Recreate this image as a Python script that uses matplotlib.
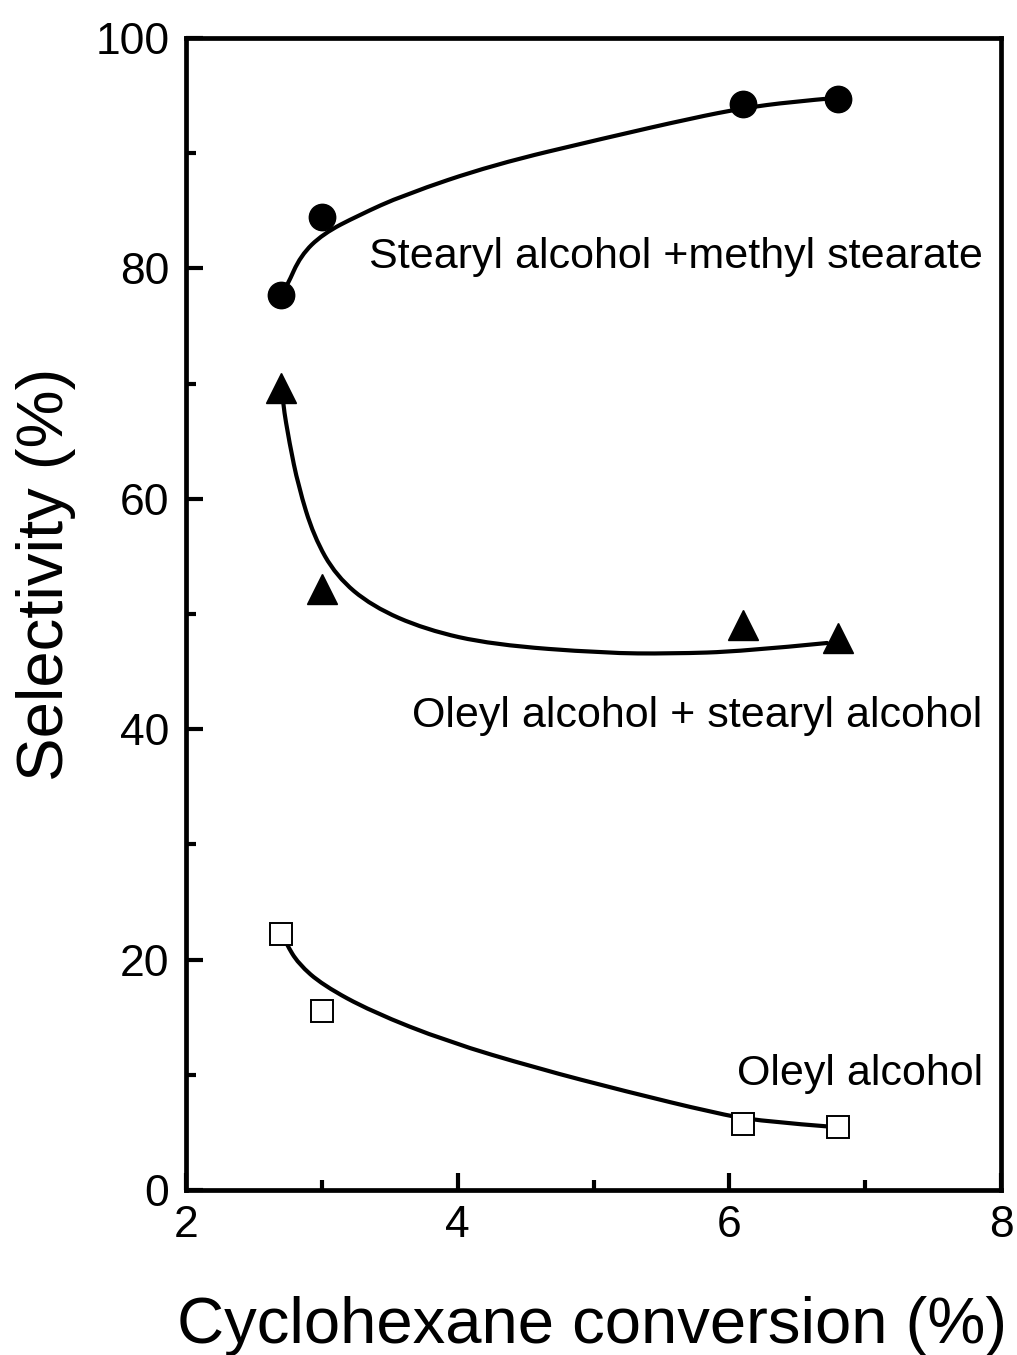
import matplotlib
matplotlib.use("Agg")
import matplotlib.pyplot as plt
from matplotlib.ticker import MultipleLocator
from matplotlib.path import Path
from matplotlib.patches import PathPatch

plt.rcParams['font.family'] = ['Liberation Sans', 'DejaVu Sans']

# ---- data ----
conversion = [2.7, 3.0, 6.1, 6.8]
sel_stearyl_methyl = [77.7, 84.5, 94.3, 94.7]
sel_oleyl_stearyl = [69.6, 52.2, 49.0, 47.9]
sel_oleyl = [22.25, 15.5, 5.75, 5.45]

# smooth guide curves
curve1_x = [2.705, 2.744, 2.843, 3.008, 3.27, 3.60, 4.257, 5.08, 5.735, 6.10, 6.45, 6.79]
curve1_y = [77.7, 78.48, 81.1, 83.0, 84.6, 86.36, 88.98, 91.3, 93.06, 93.9, 94.45, 94.8]

curve2_x = [2.705, 2.712, 2.761, 2.827, 2.94, 3.106, 3.369, 3.763, 4.257, 5.08, 5.57, 6.10, 6.72]
curve2_y = [69.6, 68.35, 64.87, 61.1, 56.75, 53.28, 50.67, 48.64, 47.33, 46.6, 46.55, 46.75, 47.48]

curve3_x = [2.705, 2.738, 2.826, 3.007, 3.367, 3.925, 4.58, 5.236, 5.89, 6.22, 6.79]
curve3_y = [22.25, 21.38, 19.65, 17.78, 15.48, 12.88, 10.58, 8.56, 6.69, 5.97, 5.45]

labels = ["Stearyl alcohol +methyl stearate",
          "Oleyl alcohol + stearyl alcohol",
          "Oleyl alcohol"]
label_y = [80.0, 40.2, 9.1]


def smooth_path(xs, ys):
    """Quadratic-Bezier path using the read points as control points."""
    pts = list(zip(xs, ys))
    verts = [pts[0]]
    codes = [Path.MOVETO]
    n = len(pts)
    for i in range(1, n - 1):
        if i == n - 2:
            end = pts[-1]
        else:
            end = ((pts[i][0] + pts[i + 1][0]) / 2, (pts[i][1] + pts[i + 1][1]) / 2)
        verts += [pts[i], end]
        codes += [Path.CURVE3, Path.CURVE3]
    return Path(verts, codes)


fig = plt.figure(figsize=(10.17, 13.55), dpi=100)
ax = fig.add_axes([0.1829, 0.1218, 0.8014, 0.8502])

lw = 3.0
for cx, cy in [(curve1_x, curve1_y), (curve2_x, curve2_y), (curve3_x, curve3_y)]:
    ax.add_patch(PathPatch(smooth_path(cx, cy), fill=False, edgecolor='black',
                           lw=lw, capstyle='round', joinstyle='round', zorder=2))

ax.plot(conversion, sel_stearyl_methyl, 'o', color='black', ms=19, zorder=3)
ax.plot(conversion, sel_oleyl_stearyl, '^', color='black', ms=21, zorder=3)
ax.plot(conversion, sel_oleyl, 's', mfc='white', mec='black', mew=1.4, ms=16, zorder=3)

for txt, yy in zip(labels, label_y):
    ax.text(7.865, yy, txt, ha='right', va='baseline', fontsize=31)

ax.set_xlim(2, 8)
ax.set_ylim(0, 100)
ax.xaxis.set_major_locator(MultipleLocator(2))
ax.xaxis.set_minor_locator(MultipleLocator(1))
ax.yaxis.set_major_locator(MultipleLocator(20))
ax.yaxis.set_minor_locator(MultipleLocator(10))

for s in ax.spines.values():
    s.set_linewidth(3.4)

ax.tick_params(which='both', direction='in', top=False, right=False, width=3)
ax.tick_params(which='major', length=12.5, labelsize=32)
ax.tick_params(which='minor', length=7)
ax.tick_params(axis='y', which='major', pad=12)
ax.tick_params(axis='x', which='major', pad=11)

ax.set_xlabel("Cyclohexane conversion (%)", fontsize=47, va='baseline')
ax.xaxis.set_label_coords(0.498, -0.1325)
ax.set_ylabel("Selectivity (%)", fontsize=47, va='center', ha='center')
ax.yaxis.set_label_coords(-0.172, 0.534)

fig.savefig("out.png", dpi=100)
